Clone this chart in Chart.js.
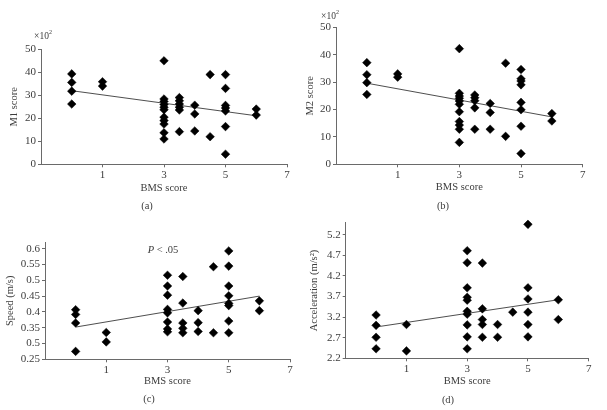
<!DOCTYPE html>
<html>
<head>
<meta charset="utf-8">
<script src="https://cdn.jsdelivr.net/npm/chart.js@4.4.1/dist/chart.umd.min.js"></script>
<style>
  body { margin: 0; background: #fff; }
  #wrap { position: relative; width: 607px; height: 410px; font-family: "Liberation Serif", "DejaVu Serif", serif; color: #3c3c3c; }
  canvas { position: absolute; }
  .txt { position: absolute; font-size: 10.5px; white-space: nowrap; transform: translate(-50%, -50%); }
</style>
</head>
<body>
<div id="wrap">
  <canvas id="chart-a" width="300" height="200" style="left:0;top:0"></canvas>
  <canvas id="chart-b" width="307" height="200" style="left:300px;top:0"></canvas>
  <canvas id="chart-c" width="300" height="200" style="left:0;top:200px"></canvas>
  <canvas id="chart-d" width="307" height="200" style="left:300px;top:200px"></canvas>
  <div class="txt" style="left:43px;top:35px;font-size:9.5px">×10<sup style="font-size:6px">2</sup></div>
  <div class="txt" style="left:330px;top:15px;font-size:9.5px">×10<sup style="font-size:6px">2</sup></div>
  <div class="txt" style="left:163px;top:249px"><i>P</i> &lt; .05</div>
  <div class="txt" style="left:147px;top:205px">(a)</div>
  <div class="txt" style="left:443px;top:205px">(b)</div>
  <div class="txt" style="left:149px;top:398px">(c)</div>
  <div class="txt" style="left:448px;top:399px">(d)</div>
</div>
<script>
// Data

const bmsA = [0, 0, 0, 0, 1, 1,
    3, 3, 3, 3, 3, 3, 3, 3, 3, 3, 3,
    3.5, 3.5, 3.5, 3.5, 3.5, 3.5,
    4, 4, 4, 4.5, 4.5,
    5, 5, 5, 5, 5, 5, 5, 6, 6];
const m1Score = [39.3, 35.6, 31.8, 26.2, 35.9, 34.0,
    45, 28.4, 27.3, 26.0, 24.8, 23.7, 20.5, 19.0, 17.5, 13.7, 11.0,
    29, 27.6, 26.2, 24.8, 23.6, 14.2,
    25.7, 21.9, 14.5, 39, 12,
    39, 33, 25.6, 24.5, 23.2, 16.4, 4.4, 24, 21.4];

const bmsB = [0, 0, 0, 0, 1, 1,
    3, 3, 3, 3, 3, 3, 3, 3, 3, 3, 3,
    3.5, 3.5, 3.5, 3.5, 3.5,
    4, 4, 4, 4.5, 4.5,
    5, 5, 5, 5, 5, 5, 5, 5, 6, 6];
const m2Score = [37.1, 32.7, 29.8, 25.5, 33.0, 31.8,
    42.2, 25.9, 24.9, 24.1, 23.1, 21.9, 19.2, 15.6, 14.3, 12.8, 8.0,
    25.3, 24.3, 23.2, 20.6, 12.8,
    22.2, 18.9, 12.8, 36.9, 10.2,
    34.6, 31.2, 30.4, 29, 22.6, 19.9, 13.9, 3.9, 18.5, 15.8];

const bmsC = [0, 0, 0, 0, 1, 1,
    3, 3, 3, 3, 3, 3, 3, 3,
    3.5, 3.5, 3.5, 3.5, 3.5,
    4, 4, 4, 4.5, 4.5,
    5, 5, 5, 5, 5, 5, 5, 5, 6, 6];
const speed = [0.407, 0.392, 0.365, 0.275, 0.335, 0.305,
    0.516, 0.482, 0.453, 0.408, 0.397, 0.368, 0.346, 0.337,
    0.512, 0.428, 0.365, 0.348, 0.334,
    0.404, 0.366, 0.338, 0.543, 0.334,
    0.593, 0.545, 0.482, 0.451, 0.427, 0.420, 0.371, 0.334, 0.435, 0.404];

const bmsD = [0, 0, 0, 0, 1, 1,
    3, 3, 3, 3, 3, 3, 3, 3, 3, 3,
    3.5, 3.5, 3.5, 3.5, 3.5,
    4, 4, 4.5,
    5, 5, 5, 5, 5, 5, 6, 6];
const accel = [3.25, 3.0, 2.71, 2.43, 3.02, 2.38,
    4.81, 4.52, 3.91, 3.68, 3.61, 3.34, 3.27, 3.01, 2.72, 2.43,
    4.51, 3.40, 3.14, 3.02, 2.71,
    3.02, 2.71, 3.32,
    5.45, 3.91, 3.64, 3.32, 3.02, 2.72, 3.62, 3.14];

// regression lines, from x = 0 to x = 6
const trendX = [0, 6];
const trendA = [32, 21.1];
const trendB = [29.6, 17.3];
const trendC = [0.352, 0.450];
const trendD = [2.96, 3.62];

// tick labels
const xTicks = [1, 3, 5, 7];
const yTicksA = [0, 10, 20, 30, 40, 50];
const yTicksB = [0, 10, 20, 30, 40, 50];
const yTicksC = [0.25, 0.3, 0.35, 0.4, 0.45, 0.5, 0.55, 0.6];
const yLabelsC = ['0.25', '0.5', '0.35', '0.4', '0.45', '0.5', '0.55', '0.6'];
const yTicksD = [2.2, 2.7, 3.2, 3.7, 4.2, 4.7, 5.2];


// Helpers

const textColor = '#3c3c3c';
const axisColor = '#6a6a6a';
const family = '"Liberation Serif", "DejaVu Serif", serif';
const tickFont = { family: family, size: 11 };
const titleFont = { family: family, size: 10.5 };

function pairs(xs, ys) {
    return xs.map((x, i) => ({ x: x, y: ys[i] }));
}

function makeChart(id, p) {
    const ctx = document.getElementById(id).getContext('2d');
    return new Chart(ctx, {
        type: 'scatter',
        data: {
            datasets: [{
                data: pairs(p.xs, p.ys),
                pointStyle: 'rectRot',
                pointRadius: 4.3,
                borderWidth: 0.5,
                backgroundColor: '#000',
                borderColor: '#000',
                clip: false,
            }, {
                type: 'line',
                data: pairs(trendX, p.trend),
                borderColor: '#3a3a3a',
                borderWidth: 0.9,
                pointRadius: 0,
                fill: false,
            }],
        },
        options: {
            responsive: false,
            animation: false,
            devicePixelRatio: 1,
            layout: { padding: p.pad },
            plugins: { legend: { display: false }, tooltip: { enabled: false } },
            scales: {
                x: {
                    type: 'linear',
                    min: -1,
                    max: 7,
                    afterBuildTicks: s => { s.ticks = xTicks.map(v => ({ value: v })); },
                    afterFit: s => { s.height = p.xH; },
                    grid: { drawOnChartArea: false, drawTicks: true, tickLength: 3, color: axisColor },
                    border: { display: true, color: axisColor, width: 1 },
                    ticks: { padding: 1, color: textColor, font: tickFont, maxRotation: 0 },
                    title: { display: true, text: 'BMS score', color: textColor, font: titleFont, padding: { top: 0, bottom: p.xTitlePad } },
                },
                y: {
                    type: 'linear',
                    min: p.yMin,
                    max: p.yMax,
                    afterBuildTicks: s => { s.ticks = p.yTicks.map(v => ({ value: v })); },
                    afterFit: s => { s.width = p.yW; },
                    grid: { drawOnChartArea: false, drawTicks: true, tickLength: 3, color: axisColor },
                    border: { display: true, color: axisColor, width: 1 },
                    ticks: {
                        padding: 2,
                        color: textColor,
                        font: tickFont,
                        callback: (v, i) => p.yLabels ? p.yLabels[i] : String(v),
                    },
                    title: { display: true, text: p.yTitle, color: textColor, font: titleFont, padding: { top: p.yTitlePad, bottom: 0 } },
                },
            },
        },
    });
}


// Charts

const chartA = makeChart('chart-a', {
    xs: bmsA, ys: m1Score, trend: trendA,
    yMin: 0, yMax: 50, yTicks: yTicksA, yTitle: 'M1 score',
    pad: { top: 49.3, right: 13, bottom: 0, left: 0 },
    yW: 41, xH: 35.7, xTitlePad: 5.7, yTitlePad: 7.7,
});

const chartB = makeChart('chart-b', {
    xs: bmsB, ys: m2Score, trend: trendB,
    yMin: 0, yMax: 50, yTicks: yTicksB, yTitle: 'M2 score',
    pad: { top: 27.3, right: 24.3, bottom: 0, left: 0 },
    yW: 36, xH: 35.7, xTitlePad: 6, yTitlePad: 4.4,
});

const chartC = makeChart('chart-c', {
    xs: bmsC, ys: speed, trend: trendC,
    yMin: 0.25, yMax: 0.62, yTicks: yTicksC, yLabels: yLabelsC, yTitle: 'Speed (m/s)',
    pad: { top: 42.4, right: 10, bottom: 0, left: 0 },
    yW: 45, xH: 40.7, xTitlePad: 12, yTitlePad: 3.7,
});

const chartD = makeChart('chart-d', {
    xs: bmsD, ys: accel, trend: trendD,
    yMin: 2.2, yMax: 5.49, yTicks: yTicksD, yTitle: 'Acceleration (m/s²)',
    pad: { top: 22.7, right: 18.3, bottom: 0, left: 0 },
    yW: 45.7, xH: 41.7, xTitlePad: 12, yTitlePad: 7.7,
});
</script>
</body>
</html>
